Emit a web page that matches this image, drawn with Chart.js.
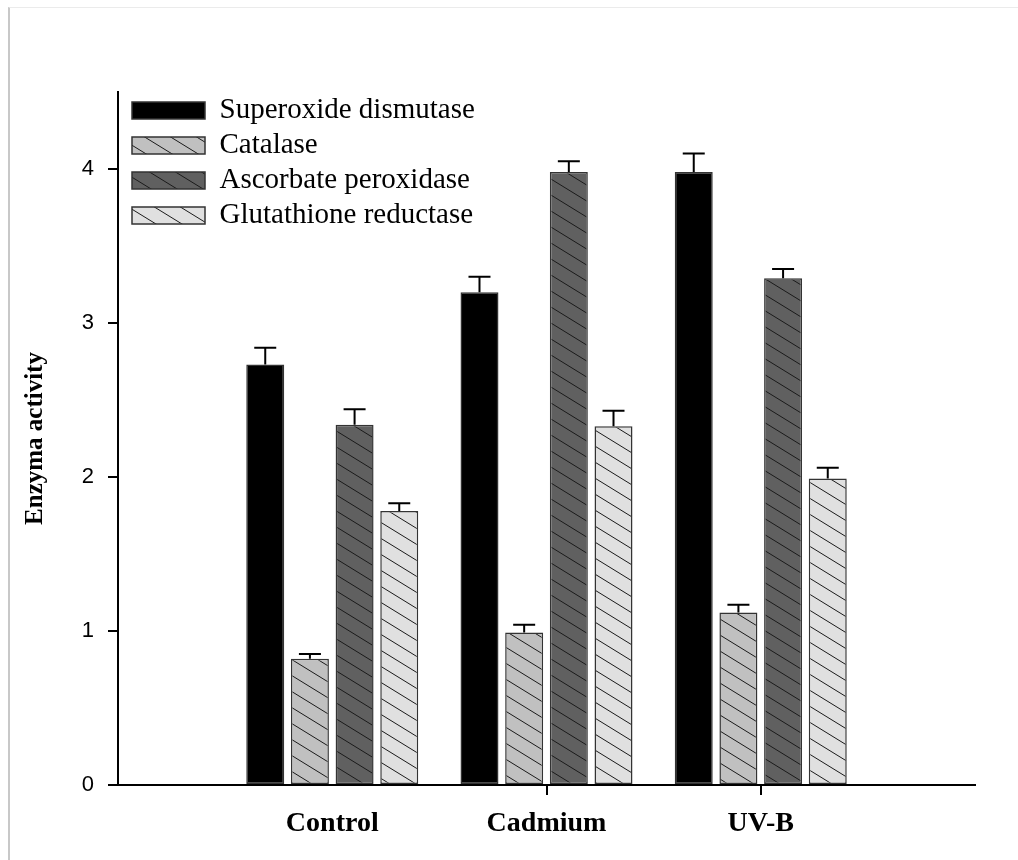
<!DOCTYPE html>
<html>
<head>
<meta charset="utf-8">
<script src="https://cdn.jsdelivr.net/npm/chart.js@4/dist/chart.umd.min.js"></script>
<style>
  body { margin: 0; background: #fff; }
  #frame { position: absolute; left: 8px; top: 7px; width: 1010px; height: 853px;
           border-top: 1px solid #ebebeb; border-left: 2px solid #c8c8c8; }
  #myChart { position: absolute; left: 0; top: 0; }
</style>
</head>
<body>
<div id="frame"></div>
<canvas id="myChart" width="1018" height="860"></canvas>
<script>
var categories = ['Control', 'Cadmium', 'UV-B'];
var yTicks = [0, 1, 2, 3, 4];

var sodValues = [2.73, 3.20, 3.98];
var sodErrors = [0.11, 0.10, 0.12];
var catValues = [0.82, 0.99, 1.12];
var catErrors = [0.03, 0.05, 0.05];
var apxValues = [2.34, 3.98, 3.29];
var apxErrors = [0.10, 0.07, 0.06];
var grValues = [1.78, 2.33, 1.99];
var grErrors = [0.05, 0.10, 0.07];

// empty slots at both ends so the groups sit where the original has them
function pad(arr) { return [null].concat(arr, [null]); }

function hatch(fill) {
  var w = 26, h = 16;
  var c = document.createElement('canvas');
  c.width = w; c.height = h;
  var g = c.getContext('2d');
  g.fillStyle = fill;
  g.fillRect(0, 0, w, h);
  g.strokeStyle = '#1a1a1a';
  g.lineWidth = 1;
  [-h, 0, h].forEach(function (dy) {
    g.beginPath();
    g.moveTo(0, dy);
    g.lineTo(w, dy + h);
    g.stroke();
  });
  return g.createPattern(c, 'repeat');
}

var errorBars = {
  id: 'errorBars',
  afterDatasetsDraw: function (chart) {
    var ctx = chart.ctx;
    var y = chart.scales.y;
    ctx.save();
    ctx.strokeStyle = '#000';
    ctx.lineWidth = 2;
    chart.data.datasets.forEach(function (ds, i) {
      chart.getDatasetMeta(i).data.forEach(function (bar, j) {
        var v = ds.data[j];
        if (v == null) return;
        var top = y.getPixelForValue(v + ds.errors[j]);
        ctx.beginPath();
        ctx.moveTo(bar.x, bar.y);
        ctx.lineTo(bar.x, top);
        ctx.moveTo(bar.x - 11, top);
        ctx.lineTo(bar.x + 11, top);
        ctx.stroke();
      });
    });
    ctx.restore();
  }
};

// the chartArea legend is laid out from the canvas top, move it into the plot
var legendInside = {
  id: 'legendInside',
  afterLayout: function (chart) {
    var lg = chart.legend;
    var h = lg.bottom - lg.top;
    lg.top = chart.chartArea.top - 2;
    lg.bottom = lg.top + h;
    lg.left = chart.chartArea.left + 8;
  }
};

var ctx = document.getElementById('myChart').getContext('2d');
var myChart = new Chart(ctx, {
  type: 'bar',
  data: {
    labels: pad(categories),
    datasets: [{
        label: 'Superoxide dismutase',
        data: pad(sodValues),
        errors: pad(sodErrors),
        backgroundColor: '#000',
        borderColor: '#333',
        borderWidth: 1.5
      }, {
        label: 'Catalase',
        data: pad(catValues),
        errors: pad(catErrors),
        backgroundColor: hatch('#c0c0c0'),
        borderColor: '#333',
        borderWidth: 1.5
      }, {
        label: 'Ascorbate peroxidase',
        data: pad(apxValues),
        errors: pad(apxErrors),
        backgroundColor: hatch('#606060'),
        borderColor: '#333',
        borderWidth: 1.5
      }, {
        label: 'Glutathione reductase',
        data: pad(grValues),
        errors: pad(grErrors),
        backgroundColor: hatch('#e0e0e0'),
        borderColor: '#333',
        borderWidth: 1.5
      }
    ]
  },
  options: {
    responsive: false,
    animation: false,
    layout: { padding: { top: 92, right: 43, bottom: 0, left: 0 } },
    datasets: {
      bar: { categoryPercentage: 0.834, barPercentage: 0.85, borderSkipped: false }
    },
    plugins: {
      legend: {
        position: 'chartArea',
        align: 'start',
        labels: {
          boxWidth: 73,
          boxHeight: 17,
          padding: 6,
          color: '#000',
          font: { family: '"Liberation Serif", serif', size: 29 }
        }
      },
      tooltip: { enabled: false }
    },
    scales: {
      x: {
        offset: false,
        afterFit: function (s) { s.height = 75; },
        border: { color: '#000', width: 2 },
        grid: {
          offset: false,
          drawOnChartArea: false,
          tickLength: 10,
          lineWidth: 2,
          color: function (c) {
            return (c.index > 0 && c.index <= categories.length) ? '#000' : 'rgba(0,0,0,0)';
          }
        },
        ticks: {
          color: '#000',
          padding: 12,
          autoSkip: false,
          maxRotation: 0,
          font: { family: '"Liberation Serif", serif', size: 28, weight: 'bold' }
        }
      },
      y: {
        min: 0,
        max: 4.5,
        afterFit: function (s) { s.width = 118; },
        afterBuildTicks: function (s) {
          s.ticks = yTicks.map(function (v) { return { value: v }; });
        },
        border: { color: '#000', width: 2 },
        grid: { drawOnChartArea: false, tickLength: 10, lineWidth: 2, color: '#000' },
        ticks: {
          color: '#000',
          padding: 14,
          font: { family: '"Liberation Sans", sans-serif', size: 22 }
        },
        title: {
          display: true,
          text: 'Enzyma activity',
          color: '#000',
          padding: { top: 21, bottom: 0 },
          font: { family: '"Liberation Serif", serif', size: 25, weight: 'bold' }
        }
      }
    }
  },
  plugins: [errorBars, legendInside]
});
</script>
</body>
</html>
